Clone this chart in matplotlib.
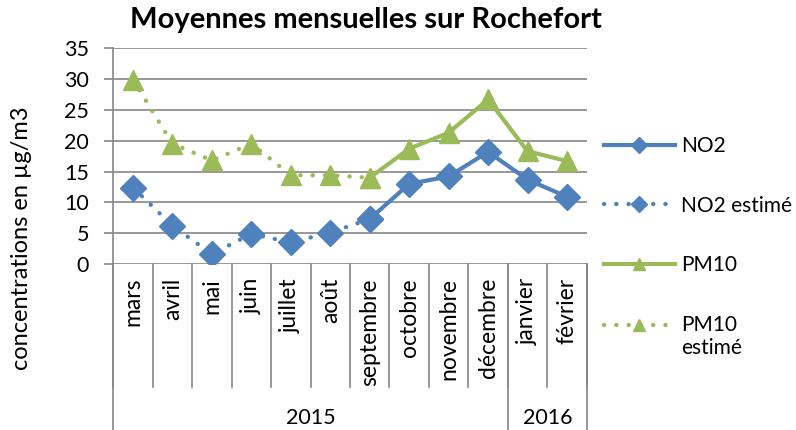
import numpy as np
import matplotlib
matplotlib.use('Agg')
import matplotlib.pyplot as plt
from matplotlib.offsetbox import DrawingArea
from matplotlib.transforms import blended_transform_factory

plt.rcParams['font.family'] = ['Lato', 'DejaVu Sans']

# donnees
mois = ['mars', 'avril', 'mai', 'juin', 'juillet', 'août', 'septembre',
        'octobre', 'novembre', 'décembre', 'janvier', 'février']
annees = ['2015', '2016']
nb_mois_annee = [10, 2]

nan = np.nan
no2 = [nan, nan, nan, nan, nan, nan, 7.3, 13.0, 14.2, 18.2, 13.7, 10.9]
no2_estime = [12.4, 6.2, 1.6, 4.9, 3.5, 5.1, 7.3, nan, nan, nan, nan, nan]
pm10 = [nan, nan, nan, nan, nan, nan, 14.0, 18.7, 21.3, 26.7, 18.3, 16.7]
pm10_estime = [29.9, 19.5, 16.8, 19.5, 14.4, 14.4, 14.0, nan, nan, nan, nan, nan]

bleu = '#4F81BD'
vert = '#9BBB59'
gris = '#868686'

W, H = 796, 430
fig = plt.figure(figsize=(W / 100, H / 100), dpi=100)
ax = fig.add_axes([113.3 / W, 1 - 264 / H, (586.7 - 113.3) / W, (264 - 48.3) / H])

x = np.arange(len(mois))
pointille = (0, (0.05, 2.8))
ax.plot(x, no2_estime, color=bleu, lw=3.1, linestyle=pointille, dash_capstyle='round',
        marker='D', ms=13.5, label='NO2 estimé', zorder=3)
ax.plot(x, pm10_estime, color=vert, lw=3.1, linestyle=pointille, dash_capstyle='round',
        marker='^', ms=14.5, label='PM10\nestimé', zorder=3)
ax.plot(x, no2, color=bleu, lw=3, marker='D', ms=13.5, label='NO2', zorder=4)
ax.plot(x, pm10, color=vert, lw=3, marker='^', ms=14.5, label='PM10', zorder=4)

ax.set_xlim(-0.5, len(mois) - 0.5)
ax.set_ylim(0, 35)
ax.set_yticks(range(0, 36, 5))
ax.yaxis.grid(True, color=gris, lw=1.2)
ax.set_axisbelow(True)
for s in ['top', 'right', 'bottom']:
    ax.spines[s].set_visible(False)
ax.spines['left'].set_color(gris)
ax.spines['left'].set_linewidth(1.2)
ax.tick_params(axis='y', length=6.5, width=1.2, color=gris, labelsize=15.5, pad=11)
ax.set_xticks([])

# axe des categories sur deux niveaux
tr = blended_transform_factory(ax.transData, ax.transAxes)
hauteur = 264 - 48.3
bas_mois = -(387 - 264) / hauteur
bas_annee = -(430 - 264) / hauteur
for i in range(len(mois) + 1):
    ax.plot([i - 0.5, i - 0.5], [0, bas_mois], color=gris, lw=1.2,
            transform=tr, clip_on=False)
for i, m in enumerate(mois):
    ax.text(i, -(278 - 264) / hauteur, m, rotation=90, ha='center', va='top',
            fontsize=16.5, transform=tr)
debut = 0
ax.plot([-0.5, -0.5], [0, bas_annee], color=gris, lw=1.2, transform=tr, clip_on=False)
for a, n in zip(annees, nb_mois_annee):
    fin = debut + n
    ax.plot([fin - 0.5, fin - 0.5], [0, bas_annee], color=gris, lw=1.2,
            transform=tr, clip_on=False)
    ax.text((debut + fin - 1) / 2, -(418 - 264) / hauteur, a, ha='center',
            va='center', fontsize=15.5, transform=tr)
    debut = fin

fig.text(366 / W, 1 - 20 / H, 'Moyennes mensuelles sur Rochefort', ha='center',
         va='center', fontsize=21, fontweight='bold')
fig.text(22 / W, 1 - 238 / H, 'concentrations en µg/m3', rotation=90, ha='center',
         va='center', fontsize=17)

h, l = ax.get_legend_handles_labels()
ordre = [2, 0, 3, 1]
leg = ax.legend([h[i] for i in ordre], [l[i] for i in ordre], loc='upper left',
                bbox_to_anchor=(604 / W, 1 - 136 / H), bbox_transform=fig.transFigure,
                frameon=False, fontsize=15, handlelength=3.4, handletextpad=0.3,
                labelspacing=1.9, markerscale=0.62, borderaxespad=0, borderpad=0)

# le symbole de "PM10 estimé" est aligné sur la premiere ligne du texte
zones = [z for z in leg.findobj(DrawingArea)]
for ligne in zones[3].get_children():
    ligne.set_ydata(np.asarray(ligne.get_ydata()) + 9)

fig.savefig('out.png', dpi=100)
